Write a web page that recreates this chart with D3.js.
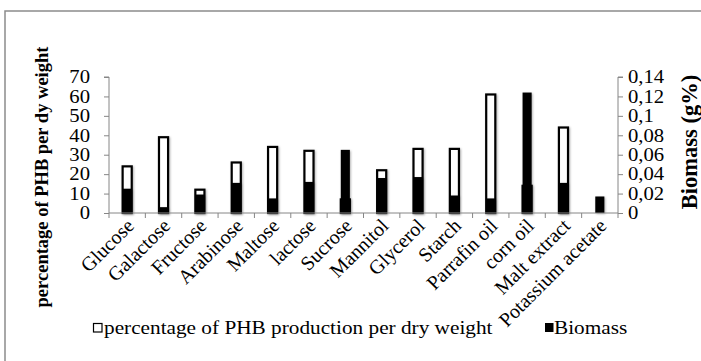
<!DOCTYPE html>
<html>
<head>
<meta charset="utf-8">
<script src="https://cdn.jsdelivr.net/npm/d3@7"></script>
<style>
  html, body { margin: 0; padding: 0; background: #fff; }
  svg { display: block; }
  text { font-family: "Liberation Serif", "Times New Roman", serif; fill: #000; }
</style>
</head>
<body>
<div id="chart"></div>
<script>
// Carbon sources tested
const categories = ["Glucose", "Galactose", "Fructose", "Arabinose", "Maltose", "lactose",
  "Sucrose", "Mannitol", "Glycerol", "Starch", "Parrafin oil", "corn oil", "Malt extract",
  "Potassium acetate"];
// PHB production, % of dry weight (left axis)
const phbPercent = [24, 39, 12, 26, 34, 32, 7, 22, 33, 33, 61, 14, 44, 0];
// Biomass, g% (right axis)
const biomass = [0.025, 0.006, 0.019, 0.031, 0.015, 0.032, 0.065, 0.036, 0.037, 0.018,
  0.015, 0.124, 0.031, 0.017];
// Axis ticks
const leftTicks = [0, 10, 20, 30, 40, 50, 60, 70];
const rightTicks = [0, 0.02, 0.04, 0.06, 0.08, 0.1, 0.12, 0.14];
const rightTickLabels = ["0", "0,02", "0,04", "0,06", "0,08", "0,1", "0,12", "0,14"];
const legendLabels = ["percentage of PHB production per dry weight", "Biomass"];

const W = 701, H = 361;
const plot = { left: 109, right: 618, top: 77, bottom: 213 };
const axisColor = "#868686";
const FONT = "Liberation Serif, Times New Roman, serif";
const tickFont = 18;      // horizontal text is drawn slightly widened
const widen = 1.15;
const catFont = 20;

const svg = d3.select("#chart").append("svg")
  .attr("width", W).attr("height", H);

// chart frame
svg.append("path")
  .attr("d", `M5,${H + 2} V11 H${W + 2}`)
  .attr("fill", "none").attr("stroke", "#8c8c8c").attr("stroke-width", 1.5);

const x = d3.scaleBand().domain(categories)
  .range([plot.left, plot.right])
  .paddingInner(0.75).paddingOuter(0.375);
const step = x.step();
const yL = d3.scaleLinear().domain([0, 70]).range([plot.bottom, plot.top]);
const yR = d3.scaleLinear().domain([0, 0.14]).range([plot.bottom, plot.top]);

// soft shadow under the bars
const defs = svg.append("defs");
const f = defs.append("filter").attr("id", "shadow")
  .attr("x", "-50%").attr("y", "-10%").attr("width", "200%").attr("height", "120%");
f.append("feDropShadow").attr("dx", 1).attr("dy", 1).attr("stdDeviation", 1)
  .attr("flood-color", "#000").attr("flood-opacity", 0.3);

const data = categories.map((c, i) => ({ c, phb: phbPercent[i], bio: biomass[i] }));

// PHB bars: white fill, heavy black outline
svg.append("g").attr("filter", "url(#shadow)")
  .selectAll("rect").data(data.filter(d => d.phb > 0)).join("rect")
  .attr("x", d => x(d.c))
  .attr("y", d => yL(d.phb))
  .attr("width", x.bandwidth())
  .attr("height", d => yL(0) - yL(d.phb))
  .attr("fill", "#fff").attr("stroke", "#000").attr("stroke-width", 2.2);

// Biomass bars: solid black, drawn in front
svg.append("g").attr("filter", "url(#shadow)")
  .selectAll("rect").data(data).join("rect")
  .attr("x", d => x(d.c))
  .attr("y", d => yR(d.bio))
  .attr("width", x.bandwidth())
  .attr("height", d => yR(0) - yR(d.bio))
  .attr("fill", "#000");

// Left axis
const gL = svg.append("g").attr("transform", `translate(${plot.left},0)`)
  .call(d3.axisLeft(yL).tickValues(leftTicks).tickSize(5));
// Right axis
const gR = svg.append("g").attr("transform", `translate(${plot.right},0)`)
  .call(d3.axisRight(yR).tickValues(rightTicks).tickSize(5)
    .tickFormat((d, i) => rightTickLabels[i]));
[[gL, -19, `M-5,${plot.top}H0V${plot.bottom}`], [gR, 10, `M5,${plot.top}H0V${plot.bottom}`]]
  .forEach(([g, off, dPath]) => {
    g.attr("font-family", FONT);
    g.select(".domain").attr("stroke", axisColor).attr("d", dPath);
    g.selectAll(".tick line").attr("stroke", axisColor);
    g.selectAll(".tick text")
      .attr("font-size", tickFont).attr("font-family", FONT)
      .attr("x", 0)
      .attr("transform", `translate(${off},0) scale(${widen},1)`);
  });

// Bottom axis with ticks between categories
const gB = svg.append("g");
gB.append("line").attr("x1", plot.left).attr("x2", plot.right)
  .attr("y1", plot.bottom).attr("y2", plot.bottom).attr("stroke", axisColor);
gB.selectAll("line.tk").data(d3.range(categories.length + 1)).join("line")
  .attr("class", "tk")
  .attr("x1", i => plot.left + i * step).attr("x2", i => plot.left + i * step)
  .attr("y1", plot.bottom).attr("y2", plot.bottom + 5).attr("stroke", axisColor);
gB.selectAll("text").data(categories).join("text")
  .attr("text-anchor", "end")
  .attr("font-size", catFont)
  .attr("transform", c => `translate(${x(c) + x.bandwidth() / 2 + 8},${plot.bottom + 14}) rotate(-45)`)
  .text(c => c);

// Axis titles
svg.append("text")
  .attr("transform", "translate(48,177) rotate(-90)")
  .attr("text-anchor", "middle").attr("font-weight", "bold").attr("font-size", 18.5)
  .text("percentage of PHB per dy weight");
svg.append("text")
  .attr("transform", "translate(697,142) rotate(-90)")
  .attr("text-anchor", "middle").attr("font-weight", "bold").attr("font-size", 22.5)
  .text("Biomass (g%)");

// Legend
const lg = svg.append("g");
lg.append("rect").attr("x", 93.5).attr("y", 323.5).attr("width", 8.5).attr("height", 8.5)
  .attr("fill", "#fff").attr("stroke", "#000").attr("stroke-width", 1.2);
lg.append("text").attr("transform", `translate(104,334) scale(${widen},1)`)
  .attr("font-size", 18.5).text(legendLabels[0]);
lg.append("rect").attr("x", 545).attr("y", 323).attr("width", 8.5).attr("height", 9)
  .attr("fill", "#000");
lg.append("text").attr("transform", `translate(554,334) scale(${widen},1)`)
  .attr("font-size", 18.5).text(legendLabels[1]);
</script>
</body>
</html>
